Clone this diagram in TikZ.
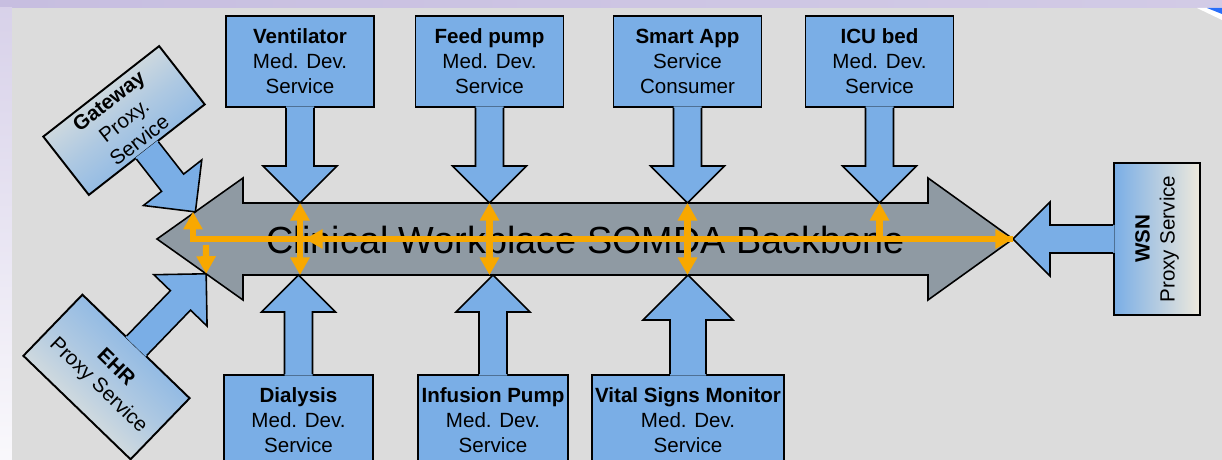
\documentclass[tikz,border=0pt]{standalone}
\usepackage{fontspec}
\setmainfont{Liberation Sans}
\usetikzlibrary{arrows.meta}

\definecolor{boxblue}{RGB}{122,174,230}
\definecolor{backgray}{RGB}{143,154,163}
\definecolor{flowamber}{RGB}{248,168,0}
\definecolor{paper}{RGB}{220,220,220}
\definecolor{linen}{RGB}{238,233,220}
\definecolor{lilac}{RGB}{199,190,224}
\definecolor{cornerblue}{RGB}{40,110,250}

\begin{document}
\begin{tikzpicture}[x=0.2mm, y=-0.2mm,
    svc/.style={rectangle, draw=black, line width=1.1pt, fill=boxblue,
        align=center, inner sep=0pt,
        font=\fontsize{11.7}{14.2}\selectfont},
    topsvc/.style={svc, minimum width=29.6mm, minimum height=18.2mm},
    botsvc/.style={svc, minimum height=18.2mm},
    pics/fatarrow/.style n args={3}{code={
        \fill[boxblue] (-1.5,-#2) -- (#1-#3,-#2) -- (#1-#3,-#3) -- (#1,0)
            -- (#1-#3,#3) -- (#1-#3,#2) -- (-1.5,#2) -- cycle;
        \draw[line width=0.9pt] (0,-#2) -- (#1-#3,-#2) -- (#1-#3,-#3) -- (#1,0)
            -- (#1-#3,#3) -- (#1-#3,#2) -- (0,#2);
        \coordinate (-tip) at (#1,0);
    }},
    flow/.style={draw=flowamber, line width=3.6pt,
        -{Triangle[width=10.5pt,length=10pt]}},
    flowboth/.style={flow,
        {Triangle[width=10.5pt,length=10pt]}-{Triangle[width=10.5pt,length=10pt]}}
]

    % PAGE BACKGROUND
    \useasboundingbox (0,0) rectangle (1222,460);
    \clip (0,0) rectangle (1222,460);
    \shade[left color=lilac, right color=lilac!80!white] (0,0) rectangle (1222,8);
    \shade[top color=lilac!70!white, bottom color=white!90!lilac] (0,8) rectangle (12,460);
    \fill[paper] (12,8) rectangle (1222,460);
    \fill[white] (1197,8) -- (1222,8) -- (1222,20) -- cycle;
    \fill[cornerblue] (1207,8) -- (1222,8) -- (1222,14) -- cycle;

    % BACKBONE
    \draw[fill=backgray, line width=0.9pt]
        (157,239) -- (243,178) -- (243,203) -- (928,203) -- (928,178)
        -- (1013,239) -- (928,300) -- (928,275) -- (243,275) -- (243,300) -- cycle;
    \node[anchor=base, font=\fontsize{21.5}{24}\selectfont] (backbone) at (585.5,254)
        {Clinical Workplace SOMDA Backbone};

    % SERVICES ABOVE THE BACKBONE
    \node[topsvc] (vent) at (300,61.5) {\textbf{Ventilator}\\Med. Dev.\\Service};
    \node[topsvc] (feed) at (489.5,61.5) {\textbf{Feed pump}\\Med. Dev.\\Service};
    \node[topsvc] (smart) at (687.5,61.5) {\textbf{Smart App}\\Service\\Consumer};
    \node[topsvc] (icu) at (879.5,61.5) {\textbf{ICU bed}\\Med. Dev.\\Service};

    \pic (ventarr) [rotate=-90] at (vent.south) {fatarrow={95}{14}{37}};
    \pic (feedarr) [rotate=-90] at (feed.south) {fatarrow={95}{14}{37}};
    \pic (smartarr) [rotate=-90] at (smart.south) {fatarrow={95}{14}{37}};
    \pic (icuarr) [rotate=-90] at (icu.south) {fatarrow={95}{14}{37}};

    % SERVICES BELOW THE BACKBONE
    \node[botsvc, minimum width=29.8mm] (dial) at (298.5,420.5)
        {\textbf{Dialysis}\\Med. Dev.\\Service};
    \node[botsvc, minimum width=30mm] (inf) at (493,420.5)
        {\textbf{Infusion Pump}\\Med. Dev.\\Service};
    \node[botsvc, minimum width=38.4mm] (vital) at (688,420.5)
        {\textbf{Vital Signs Monitor}\\Med. Dev.\\Service};

    \pic (dialarr) [rotate=90] at (dial.north) {fatarrow={99}{14}{37}};
    \pic (infarr) [rotate=90] at (inf.north) {fatarrow={99}{14}{37}};
    \pic (vitalarr) [rotate=90] at (vital.north) {fatarrow={99}{18}{45}};

    % PROXY SERVICES
    \node[svc, rotate=38, minimum width=29.4mm, minimum height=14.8mm,
        top color=linen, bottom color=boxblue, middle color=boxblue!55!linen,
        shading angle=38]
        (gw) at (124,120.5) {\textbf{Gateway}\\Proxy.\\Service};
    \node[svc, rotate=-44, minimum width=29.8mm, minimum height=17mm,
        top color=boxblue, bottom color=linen, middle color=boxblue!55!linen,
        shading angle=-44]
        (ehr) at (106.5,377) {\textbf{EHR}\\Proxy Service};
    \node[svc, rotate=90, minimum width=30.4mm, minimum height=17.2mm,
        top color=boxblue, bottom color=linen, shading angle=90]
        (wsn) at (1157,239) {\textbf{WSN}\\Proxy Service};

    \pic (gwarr) [rotate=-52] at (gw.south) {fatarrow={78}{14}{37}};
    \pic (ehrarr) [rotate=46] at (ehr.north) {fatarrow={100}{14}{37}};
    \pic (wsnarr) [rotate=180] at (wsn.north) {fatarrow={100}{14}{37}};

    % MESSAGE FLOWS ON THE BACKBONE
    \coordinate (hub) at (193,239);
    \coordinate (backflow) at (305,239);
    \coordinate (ehrfork) at (206,245);

    \draw[flowboth] (hub |- gwarr-tip) -- (hub) -- (wsnarr-tip);
    \draw[flow] (wsnarr-tip) -- (backflow);
    \draw[flow] (ehrfork) -- (ehrarr-tip);
    \draw[flowboth] (ventarr-tip) -- (ventarr-tip |- dialarr-tip);
    \draw[flowboth] (feedarr-tip) -- (feedarr-tip |- infarr-tip);
    \draw[flowboth] (smartarr-tip) -- (smartarr-tip |- vitalarr-tip);
    \draw[flow] (icuarr-tip |- hub) -- (icuarr-tip);

\end{tikzpicture}
\end{document}
